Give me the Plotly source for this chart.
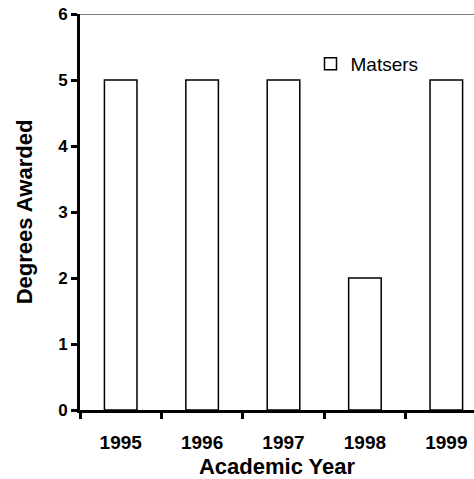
import plotly.graph_objects as go

years = ["1995", "1996", "1997", "1998", "1999"]
masters = [5, 5, 5, 2, 5]
y_ticks = [0, 1, 2, 3, 4, 5, 6]

FONT = "Arial, Liberation Sans, Helvetica, sans-serif"

fig = go.Figure()
fig.add_trace(go.Bar(
    x=years, y=masters, name="Matsers",
    marker=dict(color="white", line=dict(color="black", width=1.5)),
    width=0.4,
))

fig.add_shape(type="line", xref="paper", yref="y", x0=0, x1=1, y0=6, y1=6,
              line=dict(color="#808080", width=2), layer="below")

fig.update_layout(
    width=474, height=479,
    margin=dict(l=80, r=0, t=14, b=69, autoexpand=False),
    plot_bgcolor="white", paper_bgcolor="white",
    showlegend=True,
    legend=dict(x=0.585, y=0.874, xanchor="left", yanchor="middle",
                font=dict(family=FONT, size=19, color="black"),
                bgcolor="rgba(0,0,0,0)", itemwidth=30),
    font=dict(family=FONT, color="black"),
)
fig.update_xaxes(
    type="category", range=[-0.5, 4.34], automargin=False,
    showline=True, linecolor="black", linewidth=3,
    ticks="outside", tickson="boundaries", ticklen=6, tickwidth=3, tickcolor="black",
    showgrid=False, zeroline=False,
    ticklabelstandoff=13,
    tickfont=dict(family=FONT, size=19, color="black", weight="bold"),
    title=dict(text="<b>Academic Year</b>", font=dict(family=FONT, size=22, color="black"), standoff=7),
)
fig.update_yaxes(
    range=[0, 6], tickvals=y_ticks, automargin=False,
    showline=True, linecolor="black", linewidth=3,
    ticks="outside", ticklen=6, tickwidth=3, tickcolor="black",
    showgrid=False, zeroline=False,
    tickfont=dict(family=FONT, size=17, color="black", weight="bold"),
    title=dict(text="<b>Degrees Awarded</b>", font=dict(family=FONT, size=22, color="black"), standoff=20),
)

fig.write_html("out.html", config={"displayModeBar": False},
               post_script="document.body.style.margin='0px';")
